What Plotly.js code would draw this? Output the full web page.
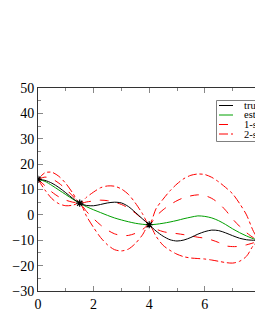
<!DOCTYPE html>
<html>
<head>
<meta charset="utf-8">
<script src="https://cdn.plot.ly/plotly-3.0.1.min.js"></script>
<style>
html, body { margin:0; padding:0; overflow:hidden; background:#fff; }
#chart { width:326px; height:330px; }
</style>
</head>
<body>
<div id="chart"></div>
<script>
// ---- data ----
var xs = [0, 0.25, 0.5, 0.75, 1.0, 1.25, 1.5, 1.75, 2.0, 2.25, 2.5, 2.75, 3.0, 3.25, 3.5, 3.75, 4.0,
          4.25, 4.5, 4.75, 5.0, 5.25, 5.5, 5.75, 6.0, 6.25, 6.5, 6.75, 7.0, 7.25, 7.5, 7.75, 7.95];
var truth = [14, 13.6, 12.5, 10.8, 8.7, 6.5, 4.6, 3.7, 3.6, 4.1, 4.7, 5.0, 4.7, 3.3, 1.0, -1.5, -3.9,
             -6.4, -8.4, -9.8, -10.3, -9.9, -8.9, -7.6, -6.6, -6.0, -6.2, -7.1, -8.2, -9.2, -9.8, -10.0, -10.0];
var estimate = [14, 13.2, 11.6, 9.8, 8.0, 6.2, 4.6, 3.2, 2.0, 0.9, -0.2, -1.2, -2.0, -2.7, -3.3, -3.7, -3.9,
                -3.7, -3.3, -2.8, -2.2, -1.5, -0.9, -0.4, -0.6, -1.2, -2.3, -3.8, -5.5, -7.0, -8.3, -9.4, -10.0];
var upper1 = [14, 14.9, 14.2, 12.5, 10.2, 7.4, 4.6, 5.1, 5.5, 5.8, 5.6, 5.05, 4.1, 2.7, 0.7, -1.55, -3.9,
              -0.5, 2.0, 4.0, 5.6, 6.8, 7.5, 7.9, 7.6, 6.5, 4.6, 1.8, -1.6, -4.5, -7.0, -9.0, -10.0];
var lower1 = [14, 11.5, 9.0, 7.1, 5.8, 5.0, 4.6, 1.3, -1.5, -4.0, -6.0, -7.45, -8.1, -8.1, -7.3, -5.85, -3.9,
              -5.6, -6.6, -7.1, -7.4, -7.8, -8.3, -8.8, -9.2, -9.9, -10.9, -12.2, -12.5, -12.4, -11.8, -11.0, -10.0];
var upper2 = [14, 16.6, 16.8, 15.2, 12.4, 8.6, 4.6, 7.0, 9.0, 10.7, 11.4, 11.3, 10.2, 8.1, 4.7, 0.6, -3.9,
              2.5, 6.2, 9.5, 12.2, 14.3, 15.6, 16.1, 15.9, 14.8, 13.0, 10.8, 8.3, 4.5, 0.0, -6.5, -10.0];
var lower2 = [14, 9.8, 6.4, 4.4, 3.6, 3.8, 4.6, -0.6, -5.0, -8.9, -11.8, -13.7, -14.2, -13.5, -11.3, -8.0, -3.9,
              -8.5, -12.0, -14.0, -15.5, -16.5, -17.0, -17.2, -17.4, -17.8, -18.3, -18.8, -19.0, -18.3, -16.3, -12.0, -10.0];
var obsX = [0, 1.5, 4.0, 7.95];
var obsY = [14, 4.6, -3.9, -10.0];
var legendLabels = ["true", "estimate", "1-sigma", "2-sigma"];
var xTicks = [0, 2, 4, 6];
var yTicks = [-30, -20, -10, 0, 10, 20, 30, 40, 50];

var FONT = "Liberation Serif, Times New Roman, serif";
var RED = "#ff0000";

function curve(y, color, dash) {
  return { x: xs, y: y, type: "scatter", mode: "lines", hoverinfo: "skip",
           line: { color: color, width: 1, dash: dash, shape: "spline", smoothing: 0.8 } };
}

var traces = [
  curve(upper2, RED, "dashdot"),
  curve(lower2, RED, "dashdot"),
  curve(upper1, RED, "dash"),
  curve(lower1, RED, "dash"),
  curve(estimate, "#00a000", "solid"),
  curve(truth, "#000000", "solid"),
  { x: obsX, y: obsY, type: "scatter", mode: "markers", hoverinfo: "skip",
    marker: { symbol: "asterisk-open", size: 6, color: "#000", line: { color: "#000", width: 1.2 } } }
];

// manual legend (paper coordinates)
var L = 38, PW = 278, B = 291, PH = 203;
function px(p) { return (p - L) / PW; }
function py(p) { return (B - p) / PH; }
var rowsY = [105.5, 115, 124.5, 134];
var styles = [["#000", "solid"], ["#00a000", "solid"], [RED, "dash"], [RED, "dashdot"]];
var shapes = [{ type: "rect", xref: "paper", yref: "paper", x0: px(216.5), x1: px(290), y0: py(141.5), y1: py(100.5),
                line: { color: "#808080", width: 1 }, fillcolor: "#fff", layer: "above" }];
var annotations = [];
for (var i = 0; i < legendLabels.length; i++) {
  shapes.push({ type: "line", xref: "paper", yref: "paper", x0: px(219), x1: px(233), y0: py(rowsY[i]), y1: py(rowsY[i]),
                line: { color: styles[i][0], width: 1, dash: styles[i][1] }, layer: "above" });
  annotations.push({ xref: "paper", yref: "paper", x: px(242), y: py(rowsY[i]), xanchor: "left", yanchor: "middle",
                     text: legendLabels[i], showarrow: false, font: { family: FONT, size: 10.5, color: "#000" } });
}

var layout = {
  width: 326, height: 330,
  margin: { l: L, r: 326 - L - PW, t: 88, b: 330 - B },
  paper_bgcolor: "#fff", plot_bgcolor: "#fff",
  showlegend: false,
  font: { family: FONT, size: 14, color: "#000" },
  xaxis: { range: [0, 10], tickvals: xTicks, ticks: "inside", ticklen: 5, tickcolor: "#888",
           minor: { dtick: 1, ticks: "inside", ticklen: 3, tickcolor: "#888" },
           showgrid: false, zeroline: false, showline: true, linecolor: "#333", linewidth: 1, mirror: "allticks",
           tickfont: { family: FONT, size: 14 } },
  yaxis: { range: [-30, 50], tickvals: yTicks, ticks: "inside", ticklen: 5, tickcolor: "#888",
           minor: { dtick: 5, ticks: "inside", ticklen: 3, tickcolor: "#888" },
           showgrid: false, zeroline: false, showline: true, linecolor: "#333", linewidth: 1, mirror: "allticks",
           tickfont: { family: FONT, size: 14 } },
  shapes: shapes,
  annotations: annotations
};

Plotly.newPlot("chart", traces, layout, { staticPlot: true, displayModeBar: false });
</script>
</body>
</html>
